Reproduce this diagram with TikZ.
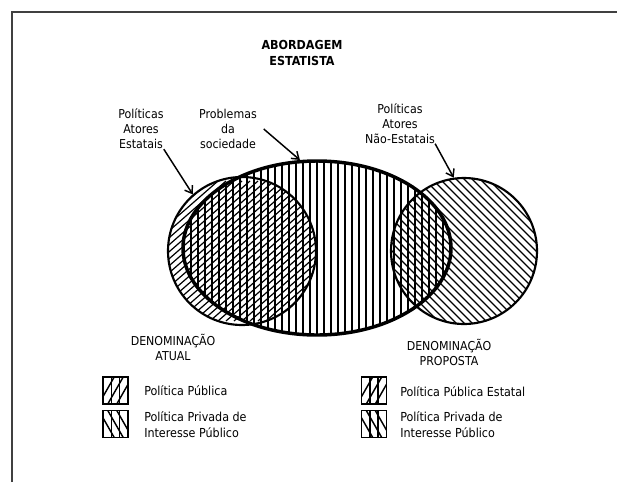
\documentclass[tikz,border=0pt]{standalone}
\usepackage{fontspec}
\setmainfont{DejaVu Sans Condensed}
\usetikzlibrary{shapes.geometric, arrows.meta}

\begin{document}
\begin{tikzpicture}[x=0.75pt, y=-0.75pt,
    lbl/.style={font=\fontsize{9.2}{11.2}\selectfont, align=center, inner sep=0pt},
    leg/.style={font=\fontsize{9.3}{12}\selectfont, align=left, anchor=west, inner sep=0pt},
    hatch/.style={line width=0.9pt},
    seta/.style={-{Straight Barb[length=5pt,width=7pt]}, line width=1.1pt},
    swatch/.style={draw, line width=1.4pt, minimum width=18.75pt, minimum height=20.25pt, inner sep=0pt}]

      \useasboundingbox (0,0) rectangle (617,482);
      % frame
      \draw[line width=1.5pt, black!75] (11.5,482) -- (11.5,12) -- (617,12);

      % hatching
      \begin{scope}
        \clip (317,248) ellipse [x radius=134, y radius=87];
        \foreach \x in {184,191,...,452}
          \draw[hatch] (\x,158) -- (\x,338);
      \end{scope}
      \begin{scope}
        \clip (242,251) circle [radius=74];
        \foreach \d in {-168,-160,...,168}
          \draw[hatch] ({242+\d-80},321) -- ({242+\d+80},181);
      \end{scope}
      \begin{scope}
        \clip (464,251) circle [radius=73];
        \foreach \d in {-168,-160,...,168}
          \draw[hatch] ({464+\d-80},171) -- ({464+\d+80},331);
      \end{scope}

      % outlines
      \node[circle, draw, line width=1.6pt, minimum size=111pt, inner sep=0pt] (polA) at (242,251) {};
      \node[circle, draw, line width=1.6pt, minimum size=109.5pt, inner sep=0pt] (polB) at (464,251) {};
      \node[ellipse, draw, line width=2.6pt, minimum width=201pt, minimum height=130.5pt, inner sep=0pt] (ell) at (317,248) {};

      % labels
      \node[lbl, font=\fontsize{9.3}{11.8}\selectfont\bfseries] (titulo) at (302,53) {ABORDAGEM\\ESTATISTA};
      \node[lbl] (lblA) at (141,129) {Políticas\\Atores\\Estatais};
      \node[lbl] (lblP) at (228,129) {Problemas\\da\\sociedade};
      \node[lbl] (lblB) at (400,123.5) {Políticas\\Atores\\Não-Estatais};

      \draw[seta] (lblA.south east) -- (polA.131);
      \draw[seta] ([xshift=5pt]lblP.east) -- (ell.101);
      \draw[seta] (lblB.south east) -- (polB.98);

      \node[lbl] (atual) at (173,347) {DENOMINAÇÃO\\ATUAL};
      \node[lbl] (proposta) at (449,352) {DENOMINAÇÃO\\PROPOSTA};

      % legend
      \foreach \bx/\by/\s [count=\i] in {115.5/390.5/1, 115.5/424/-1, 374/390.5/1, 374/424/-1}{
        \begin{scope}
          \clip ({\bx-12.5},{\by-13.5}) rectangle ({\bx+12.5},{\by+13.5});
          \draw[hatch] ({\bx-4},{\by-14}) -- ({\bx-4},{\by+14})
                       ({\bx+4},{\by-14}) -- ({\bx+4},{\by+14});
          \foreach \k in {-1,0,1}
            \draw[hatch, line width=1.1pt] ({\bx+\k*9-\s*8},{\by+14}) -- ({\bx+\k*9+\s*8},{\by-14});
        \end{scope}
        \node[swatch] (sw\i) at (\bx,\by) {};
      }
      \node[leg] (legA1) at (144,391) {Política Pública};
      \node[leg] (legA2) at (144,425) {Política Privada de\\Interesse Público};
      \node[leg] (legB1) at (400,392) {Política Pública Estatal};
      \node[leg] (legB2) at (400,425) {Política Privada de\\Interesse Público};

\end{tikzpicture}
\end{document}
